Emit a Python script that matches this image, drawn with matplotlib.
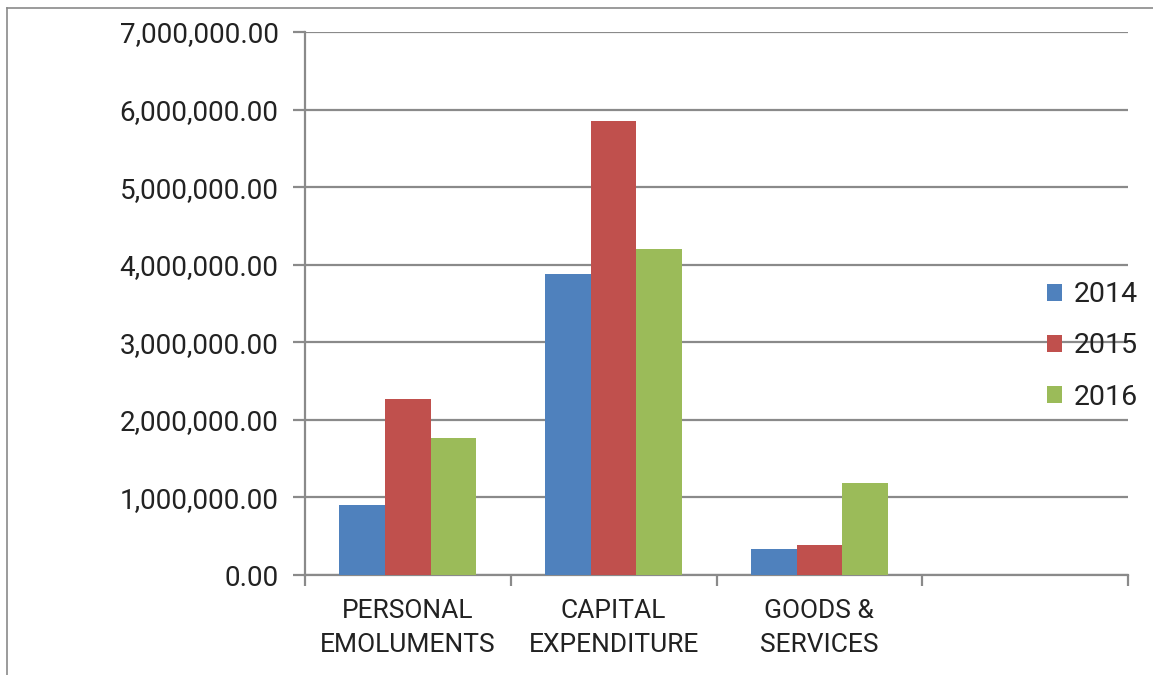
import numpy as np
import matplotlib
matplotlib.use("Agg")
import matplotlib.pyplot as plt
from matplotlib.lines import Line2D
from matplotlib.ticker import FuncFormatter

plt.rcParams['font.family'] = ['Roboto', 'DejaVu Sans']

# spending per head, by year
categories = ["PERSONAL\nEMOLUMENTS", "CAPITAL\nEXPENDITURE", "GOODS &\nSERVICES", ""]
years = ["2014", "2015", "2016"]
spend_2014 = [900000, 3880000, 335000]
spend_2015 = [2265000, 5857000, 383000]
spend_2016 = [1762000, 4203000, 1190000]
colors = ["#4F81BD", "#C0504D", "#9BBB59"]

grey = "#8a8a8a"
txt = "#222222"

fig = plt.figure(figsize=(11.53, 6.75), dpi=100)
ax = fig.add_axes([305/1153, 100/675, 823/1153, 543/675])

n_slots = len(categories)
bw = 1 / 4.5
series = [spend_2014, spend_2015, spend_2016]
for i, (vals, yr, c) in enumerate(zip(series, years, colors)):
    x = np.arange(len(vals)) + 0.5 + (i - 1) * bw
    ax.bar(x, vals, width=bw, color=c, label=yr, zorder=3, linewidth=0)

ax.set_xlim(0, n_slots)
ax.set_ylim(0, 7000000)
ax.set_yticks(np.arange(0, 7000001, 1000000))
ax.yaxis.set_major_formatter(FuncFormatter(lambda v, p: "{:,.2f}".format(v)))
ax.grid(axis='y', color=grey, linewidth=1.6, zorder=0)

# slot boundaries as major ticks, names centred on minor ticks
ax.set_xticks(np.arange(n_slots + 1))
ax.set_xticklabels([])
ax.set_xticks(np.arange(n_slots) + 0.5, minor=True)
ax.set_xticklabels(categories, minor=True, fontsize=19, color=txt, linespacing=1.55)
ax.tick_params(axis='x', which='major', length=8, width=1.6, color=grey, direction='out')
ax.tick_params(axis='x', which='minor', length=0, pad=17)
ax.tick_params(axis='y', length=9, width=1.6, color=grey, pad=10, labelsize=20, labelcolor=txt)

for s in ['top', 'right']:
    ax.spines[s].set_visible(False)
for s in ['left', 'bottom']:
    ax.spines[s].set_color(grey)
    ax.spines[s].set_linewidth(1.6)

leg = ax.legend(loc='center left', bbox_to_anchor=(0.8837, 0.422), frameon=False,
                fontsize=20.5, handlelength=0.55, handleheight=0.55,
                handletextpad=0.4, labelspacing=0.85, borderpad=0)
for t in leg.get_texts():
    t.set_color(txt)

# outer frame: top and left edges only
fig.add_artist(Line2D([7/1153, 1], [1 - 8/675, 1 - 8/675], transform=fig.transFigure, color=grey, linewidth=1.2))
fig.add_artist(Line2D([7/1153, 7/1153], [0, 1 - 8/675], transform=fig.transFigure, color=grey, linewidth=1.2))

fig.savefig("out.png", dpi=100)
